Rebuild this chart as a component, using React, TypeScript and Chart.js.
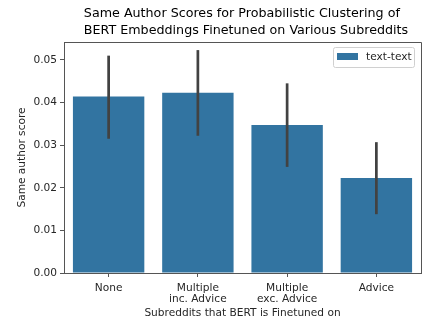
import React, { useEffect, useRef } from "react";
import { Chart, registerables } from "chart.js";

Chart.register(...registerables);

const categories: (string | string[])[] = [
  "None",
  ["Multiple", "inc. Advice"],
  ["Multiple", "exc. Advice"],
  "Advice",
];
const scores = [0.0414, 0.0423, 0.0347, 0.0223];
const errLow = [0.0315, 0.0322, 0.0249, 0.0138];
const errHigh = [0.051, 0.0523, 0.0445, 0.0307];
const yTicks = [0, 0.01, 0.02, 0.03, 0.04, 0.05];
const titleLines = [
  "Same Author Scores for Probabilistic Clustering of",
  "BERT Embeddings Finetuned on Various Subreddits",
];
const seriesLabel = "text-text";
const xTitle = "Subreddits that BERT is Finetuned on";
const yTitle = "Same author score";

const BAR = "#3274a1";
const TEXT = "#262626";
const SPINE = "#555555";
const FONT = "DejaVu Sans";
const SMALL = 10.6;
const BIG = 12.7;

const overlayPlugin = {
  id: "overlay",
  afterDatasetsDraw(chart: any) {
    const { ctx, chartArea, scales } = chart;
    const x = scales.x;
    const y = scales.y;
    ctx.save();
    // error bars
    ctx.strokeStyle = "#424242";
    ctx.lineWidth = 2.7;
    ctx.lineCap = "butt";
    for (let i = 0; i < scores.length; i++) {
      const px = x.getPixelForValue(i);
      ctx.beginPath();
      ctx.moveTo(px, y.getPixelForValue(errLow[i]));
      ctx.lineTo(px, y.getPixelForValue(errHigh[i]));
      ctx.stroke();
    }
    // top/right spines
    ctx.strokeStyle = SPINE;
    ctx.lineWidth = 1;
    ctx.beginPath();
    ctx.moveTo(chartArea.left, chartArea.top + 0.5);
    ctx.lineTo(chartArea.right + 0.5, chartArea.top + 0.5);
    ctx.lineTo(chartArea.right + 0.5, chartArea.bottom);
    ctx.stroke();
    // title (block centred, lines left-aligned)
    ctx.fillStyle = "#000";
    ctx.font = `${BIG}px '${FONT}'`;
    ctx.textAlign = "left";
    ctx.textBaseline = "middle";
    const w = Math.max(...titleLines.map((t) => ctx.measureText(t).width));
    const cx = (chartArea.left + chartArea.right) / 2 + 3.5;
    ctx.fillText(titleLines[0], cx - w / 2, 14);
    ctx.fillText(titleLines[1], cx - w / 2, 30.7);
    // legend
    const lx = 333, ly = 47, lw = 81, lh = 20;
    ctx.fillStyle = "rgba(255,255,255,0.8)";
    ctx.strokeStyle = "#d0d0d0";
    ctx.lineWidth = 1;
    ctx.beginPath();
    (ctx as any).roundRect ? (ctx as any).roundRect(lx + 0.5, ly + 0.5, lw, lh, 2) : ctx.rect(lx + 0.5, ly + 0.5, lw, lh);
    ctx.fill();
    ctx.stroke();
    ctx.fillStyle = BAR;
    ctx.fillRect(337, 53, 21, 7);
    ctx.fillStyle = TEXT;
    ctx.font = `${SMALL}px '${FONT}'`;
    ctx.textAlign = "left";
    ctx.textBaseline = "middle";
    ctx.fillText(seriesLabel, 366, 57.5);
    ctx.restore();
  },
};

export default function App() {
  const ref = useRef<HTMLCanvasElement | null>(null);
  useEffect(() => {
    document.body.style.margin = "0";
    const chart = new Chart(ref.current!, {
      type: "bar",
      data: {
        labels: categories as any,
        datasets: [
          {
            label: seriesLabel,
            data: scores,
            backgroundColor: BAR,
            borderWidth: 0,
            barPercentage: 0.8,
            categoryPercentage: 1,
          },
        ],
      },
      options: {
        responsive: false,
        animation: false,
        layout: { padding: { top: 42, right: 4, left: 0, bottom: 0 } },
        plugins: {
          legend: { display: false },
          title: { display: false },
          tooltip: { enabled: false },
        },
        scales: {
          x: {
            grid: { offset: false, drawOnChartArea: false, drawTicks: true, tickLength: 4, color: SPINE },
            border: { display: true, color: SPINE },
            ticks: {
              color: TEXT,
              font: { family: FONT, size: SMALL, lineHeight: 1.04 },
              padding: 6,
              maxRotation: 0,
              autoSkip: false,
            },
            title: {
              display: true,
              text: xTitle,
              color: TEXT,
              font: { family: FONT, size: SMALL, lineHeight: 1.2 },
              padding: { top: 0, bottom: 7.6 },
            },
            afterFit(scale: any) {
              scale.height = 54;
            },
          },
          y: {
            min: 0,
            max: 0.0542,
            grid: { drawOnChartArea: false, drawTicks: true, tickLength: 4, color: SPINE },
            border: { display: true, color: SPINE },
            ticks: {
              color: TEXT,
              font: { family: FONT, size: SMALL },
              padding: 3,
              callback: (v: any) => Number(v).toFixed(2),
            },
            afterBuildTicks(scale: any) {
              scale.ticks = yTicks.map((v) => ({ value: v }));
            },
            title: {
              display: true,
              text: yTitle,
              color: TEXT,
              font: { family: FONT, size: SMALL, lineHeight: 1.2 },
              padding: { top: 15.5, bottom: 0 },
            },
            afterFit(scale: any) {
              scale.width = 64;
            },
          },
        },
      },
      plugins: [overlayPlugin],
    });
    return () => chart.destroy();
  }, []);
  return (
    <div style={{ width: 425, height: 327, background: "#fff" }}>
      <canvas ref={ref} width={425} height={327} style={{ display: "block" }} />
    </div>
  );
}
